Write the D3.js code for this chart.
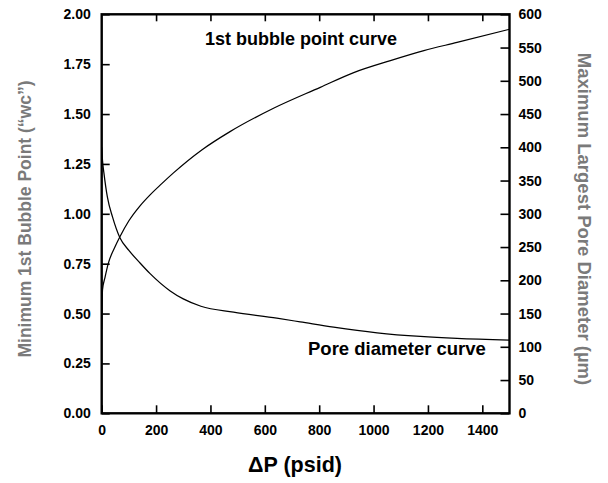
<!DOCTYPE html>
<html><head><meta charset="utf-8">
<script src="https://cdn.jsdelivr.net/npm/d3@7/dist/d3.min.js"></script>
<style>
body{margin:0;background:#fff;}
svg{display:block;font-family:"Liberation Sans",Arial,Helvetica,sans-serif;}
</style></head><body>
<svg id="c" width="608" height="483"></svg>
<script>
// Data
const bubbleX = [0, 3, 12, 24, 49, 67, 100, 141, 178, 220, 264, 368, 472, 632, 804, 927, 1062, 1185, 1307, 1500];
const bubbleY = [0.42, 0.62, 0.68, 0.75, 0.835, 0.885, 0.965, 1.04, 1.095, 1.15, 1.205, 1.32, 1.412, 1.529, 1.634, 1.708, 1.768, 1.818, 1.859, 1.925];
const poreX = [0, 3, 8, 21, 40, 67, 100, 141, 178, 252, 300, 365, 485, 644, 730, 853, 1013, 1172, 1307, 1500];
const poreY = [400, 380, 362, 325, 295, 264, 245, 226, 210, 184, 172, 161, 152, 143, 137.5, 129.5, 121, 115.5, 112.5, 110];
const xTicks = [0, 200, 400, 600, 800, 1000, 1200, 1400];
const leftTicks = [0, 0.25, 0.5, 0.75, 1.0, 1.25, 1.5, 1.75, 2.0];
const rightTicks = [0, 50, 100, 150, 200, 250, 300, 350, 400, 450, 500, 550, 600];
const labels = {
  x: "ΔP (psid)",
  yLeft: "Minimum 1st Bubble Point (“wc”)",
  yRight: "Maximum Largest Pore Diameter (µm)",
  bubble: "1st bubble point curve",
  pore: "Pore diameter curve"
};

const L = 101.7, R = 509.5, T = 14.3, B = 413.3;
const svg = d3.select("#c");
const x = d3.scaleLinear().domain([0, 1500]).range([L, R]);
const yL = d3.scaleLinear().domain([0, 2]).range([B, T]);
const yR = d3.scaleLinear().domain([0, 600]).range([B, T]);

const FF = "'Liberation Sans', Arial, sans-serif";
const tickFont = "bold 14px " + FF;

function styleAxis(g) {
  g.select(".domain").remove();
  g.selectAll(".tick line").attr("stroke", "#000").attr("stroke-width", 1.6);
  g.selectAll(".tick text").attr("fill", "#000").style("font", tickFont);
}

// bottom axis
svg.append("g").attr("transform", `translate(0,${B})`)
  .call(d3.axisBottom(x).tickValues(xTicks).tickSize(-8).tickPadding(12).tickFormat(d3.format("d")))
  .call(styleAxis);
// top ticks
svg.append("g").attr("transform", `translate(0,${T})`)
  .call(d3.axisTop(x).tickValues(xTicks.slice(1)).tickSize(-7).tickFormat(""))
  .call(styleAxis);
// left axis
svg.append("g").attr("transform", `translate(${L},0)`)
  .call(d3.axisLeft(yL).tickValues(leftTicks).tickSize(-8).tickPadding(11).tickFormat(d3.format(".2f")))
  .call(styleAxis);
// right axis
svg.append("g").attr("transform", `translate(${R},0)`)
  .call(d3.axisRight(yR).tickValues(rightTicks).tickSize(-9).tickPadding(9).tickFormat(d3.format("d")))
  .call(styleAxis);

// frame
svg.append("rect").attr("x", L).attr("y", T).attr("width", R - L).attr("height", B - T)
  .attr("fill", "none").attr("stroke", "#000").attr("stroke-width", 2.4);

// curves
const lineB = d3.line().x((d, i) => x(bubbleX[i])).y(d => yL(d)).curve(d3.curveMonotoneX);
const lineP = d3.line().x((d, i) => x(poreX[i])).y(d => yR(d)).curve(d3.curveMonotoneX);
svg.append("path").attr("d", lineB(bubbleY)).attr("fill", "none").attr("stroke", "#000").attr("stroke-width", 1.25);
svg.append("path").attr("d", lineP(poreY)).attr("fill", "none").attr("stroke", "#000").attr("stroke-width", 1.25);

// annotations
svg.append("text").attr("x", 205).attr("y", 45).text(labels.bubble)
  .style("font", "bold 18px " + FF).attr("fill", "#000");
svg.append("text").attr("x", 308).attr("y", 355).text(labels.pore)
  .style("font", "bold 18.5px " + FF).attr("fill", "#000");

// axis titles
svg.append("text").attr("x", 295).attr("y", 472).attr("text-anchor", "middle").text(labels.x)
  .style("font", "bold 21.5px " + FF).attr("fill", "#000");
svg.append("text").attr("transform", "translate(31,219) rotate(-90)").attr("text-anchor", "middle")
  .text(labels.yLeft).style("font", "bold 17.5px " + FF).attr("fill", "#7a7a7a");
svg.append("text").attr("transform", "translate(578,219) rotate(90)").attr("text-anchor", "middle")
  .text(labels.yRight).style("font", "bold 18.5px " + FF).attr("fill", "#7a7a7a");
</script>
</body></html>
